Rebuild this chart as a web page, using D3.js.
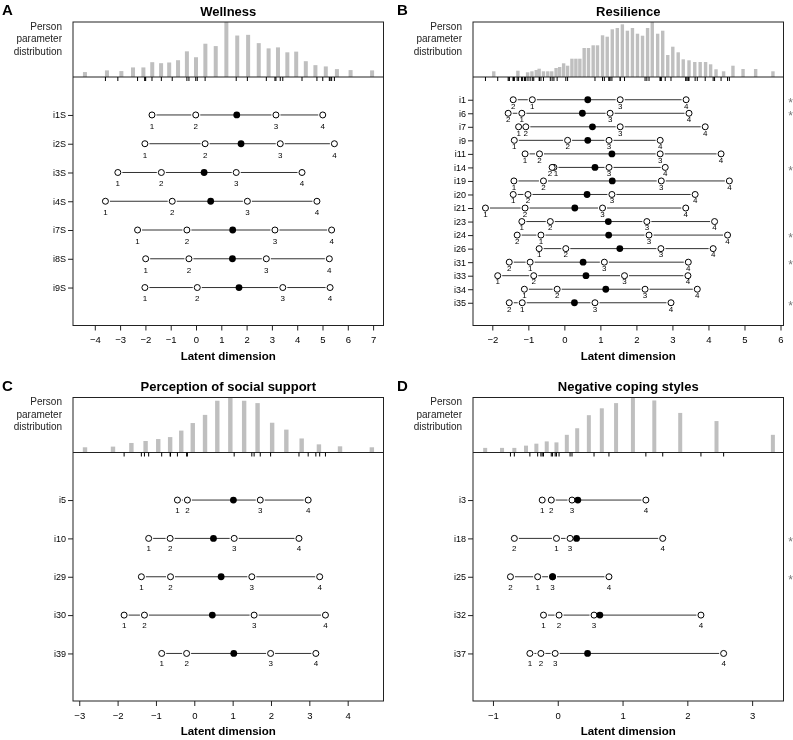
<!DOCTYPE html>
<html>
<head>
<meta charset="utf-8">
<script src="https://cdn.jsdelivr.net/npm/d3@7"></script>
<style>
body{margin:0;background:#fff}
#chart{will-change:transform}
text{font-family:"Liberation Sans",Arial,Helvetica,sans-serif}
</style>
</head>
<body>
<svg id="chart" width="793" height="740"></svg>
<script>
// ---- A: Wellness
var wellItems = ["i1S","i2S","i3S","i4S","i7S","i8S","i9S"];
var wellThresholds = [
	[-1.74,-0.01,3.16,5.01],
	[-2.02,0.36,3.33,5.47],
	[-3.09,-1.37,1.59,4.19],
	[-3.58,-0.94,2.03,4.78],
	[-2.31,-0.36,3.12,5.36],
	[-1.99,-0.28,2.78,5.27],
	[-2.02,0.05,3.43,5.30]
];
var wellLocations = [1.61,1.78,0.32,0.58,1.45,1.44,1.70];
var wellHistAt = [-4.39,-3.52,-2.95,-2.49,-2.08,-1.73,-1.38,-1.06,-0.71,-0.36,0.00,0.37,0.78,1.20,1.63,2.06,2.48,2.87,3.24,3.61,3.96,4.34,4.72,5.13,5.57,6.11,6.96];
var wellHistFreq = [5,6.7,6,9.7,9.7,15,14,14.7,17,26,20,33.7,31.3,55.7,42,42.7,34.3,29,30,25,25.7,16,12,10.7,8,7,6.7];
var wellStars = [];
var wellTicks = [-4,-3,-2,-1,0,1,2,3,4,5,6,7];

// ---- B: Resilience
var resItems = ["i1","i6","i7","i9","i11","i14","i19","i20","i21","i23","i24","i26","i31","i33","i34","i35"];
var resThresholds = [
	[-0.89,-1.42,1.55,3.38],
	[-1.18,-1.56,1.27,3.46],
	[-1.27,-1.07,1.55,3.91],
	[-1.39,0.09,1.24,2.66],
	[-1.09,-0.69,2.66,4.35],
	[-0.29,-0.34,1.24,2.80],
	[-1.40,-0.58,2.69,4.58],
	[-1.42,-1.01,1.32,3.63],
	[-2.19,-1.09,1.06,3.37],
	[-1.18,-0.39,2.29,4.17],
	[-0.65,-1.31,2.35,4.53],
	[-0.70,0.04,2.68,4.13],
	[-0.95,-1.53,1.11,3.44],
	[-1.85,-0.85,1.67,3.43],
	[-1.11,-0.20,2.24,3.69],
	[-1.17,-1.53,0.85,2.96]
];
var resLocations = [0.65,0.50,0.78,0.65,1.32,0.85,1.33,0.63,0.29,1.22,1.23,1.54,0.52,0.60,1.15,0.28];
var resHistAt = [-1.96,-1.29,-1.02,-0.90,-0.78,-0.70,-0.58,-0.46,-0.35,-0.23,-0.13,-0.02,0.09,0.21,0.32,0.43,0.55,0.67,0.80,0.92,1.06,1.19,1.33,1.47,1.61,1.75,1.89,2.03,2.17,2.31,2.44,2.59,2.73,2.87,3.01,3.16,3.30,3.46,3.62,3.77,3.92,4.06,4.21,4.42,4.68,4.96,5.31,5.79];
var resHistFreq = [5.7,6.3,4.7,5.7,7,8.3,5.7,5.7,5.7,9,10,13.7,11.3,18.3,18.3,18.3,29,29,31.7,31.7,41.7,40.3,47.7,49,52.7,46.3,49,43.3,41.3,49,55,43.3,46.3,22,30.3,24.7,17.7,16.7,15,15,15,12.7,7.7,5.7,11.3,8,8,5.7];
var resStars = ["i1","i6","i14","i24","i31","i35"];
var resTicks = [-2,-1,0,1,2,3,4,5,6];

// ---- C: Perception of social support
var socItems = ["i5","i10","i29","i30","i39"];
var socThresholds = [
	[-0.44,-0.18,1.72,2.97],
	[-1.19,-0.63,1.04,2.73],
	[-1.38,-0.62,1.50,3.27],
	[-1.83,-1.30,1.56,3.42],
	[-0.85,-0.20,1.99,3.17]
];
var socLocations = [1.02,0.50,0.70,0.47,1.03];
var socHistAt = [-2.85,-2.12,-1.64,-1.27,-0.94,-0.63,-0.34,-0.04,0.28,0.60,0.94,1.30,1.65,2.03,2.40,2.80,3.25,3.80,4.63];
var socHistFreq = [5.3,6,9.7,11.7,13.7,15.7,22.3,30,38.3,52.7,56,52.7,50.3,30.3,23.3,14.3,8.3,6.3,5.3];
var socStars = [];
var socTicks = [-3,-2,-1,0,1,2,3,4];

// ---- D: Negative coping styles
var copItems = ["i3","i18","i25","i32","i37"];
var copThresholds = [
	[-0.24,-0.10,0.22,1.36],
	[-0.02,-0.67,0.19,1.62],
	[-0.31,-0.73,-0.08,0.79],
	[-0.22,0.02,0.56,2.21],
	[-0.43,-0.26,-0.04,2.56]
];
var copLocations = [0.31,0.29,-0.08,0.65,0.46];
var copHistAt = [-1.12,-0.86,-0.67,-0.49,-0.33,-0.17,-0.02,0.14,0.30,0.48,0.68,0.90,1.16,1.49,1.89,2.45,3.32];
var copHistFreq = [4.7,4.7,4.7,7,9,11.3,10.3,18,24.7,38,45,50.3,56,53,40.3,32,18];
var copStars = ["i18","i25"];
var copTicks = [-1,0,1,2,3];

var svg = d3.select('#chart');

var panels = [
	{letter:'A', title:'Wellness', items:wellItems, thr:wellThresholds, loc:wellLocations,
	 histAt:wellHistAt, histFreq:wellHistFreq, stars:wellStars, ticks:wellTicks,
	 left:73, top:22, domain:[-4.862,7.411], labelDy:11, letterX:2, barW:4},
	{letter:'B', title:'Resilience', items:resItems, thr:resThresholds, loc:resLocations,
	 histAt:resHistAt, histFreq:resHistFreq, stars:resStars, ticks:resTicks,
	 left:473, top:22, domain:[-2.536,6.083], labelDy:6, letterX:397, barW:3.4},
	{letter:'C', title:'Perception of social support', items:socItems, thr:socThresholds, loc:socLocations,
	 histAt:socHistAt, histFreq:socHistFreq, stars:socStars, ticks:socTicks,
	 left:73, top:397.5, domain:[-3.163,4.934], labelDy:10, letterX:2, barW:4.4},
	{letter:'D', title:'Negative coping styles', items:copItems, thr:copThresholds, loc:copLocations,
	 histAt:copHistAt, histFreq:copHistFreq, stars:copStars, ticks:copTicks,
	 left:473, top:397.5, domain:[-1.308,3.484], labelDy:10, letterX:397, barW:4}
];

function drawPanel(p){
	var left = p.left, right = p.left + 310.5;
	var top = p.top, base = top + 55, bottom = base + 248.5;
	var n = p.items.length, pad = 0.04*(n+1);
	var x = d3.scaleLinear().domain(p.domain).range([left,right]);
	var y = d3.scaleLinear().domain([-pad, n+1+pad]).range([base,bottom]);
	var hy = d3.scaleLinear().domain([0, d3.max(p.histFreq)]).range([base,top]);
	var g = svg.append('g');

	// person parameter histogram
	g.selectAll('rect.bar').data(p.histAt).enter().append('rect')
		.attr('class','bar')
		.attr('x', function(d){return x(d)-p.barW/2})
		.attr('width', p.barW)
		.attr('y', function(d,i){return hy(p.histFreq[i])})
		.attr('height', function(d,i){return base-hy(p.histFreq[i])})
		.attr('fill','#bfbfbf');

	// frames
	g.append('rect')
		.attr('x',left).attr('y',top)
		.attr('width',right-left).attr('height',bottom-top)
		.attr('fill','none').attr('stroke','#222').attr('stroke-width',1);
	g.append('line')
		.attr('x1',left).attr('x2',right).attr('y1',base).attr('y2',base)
		.attr('stroke','#222');

	// rug of threshold locations
	var allThr = [].concat.apply([], p.thr);
	g.selectAll('line.rug').data(allThr).enter().append('line')
		.attr('class','rug')
		.attr('x1',function(d){return x(d)}).attr('x2',function(d){return x(d)})
		.attr('y1',base).attr('y2',base+4)
		.attr('stroke','#000').attr('stroke-width',1);

	// axes
	var xa = g.append('g').attr('transform','translate(0,'+bottom+')')
		.call(d3.axisBottom(x).tickValues(p.ticks).tickFormat(d3.format('d'))
			.tickSize(5).tickPadding(6));
	xa.select('.domain').remove();
	xa.selectAll('line').attr('stroke','#222');
	xa.selectAll('text').attr('font-size',9.5).attr('font-family',null).attr('fill','#000');

	var ya = g.append('g').attr('transform','translate('+left+',0)')
		.call(d3.axisLeft(y).tickValues(d3.range(1,n+1))
			.tickFormat(function(i){return p.items[i-1]}).tickSize(5).tickPadding(2));
	ya.select('.domain').remove();
	ya.selectAll('line').attr('stroke','#222');
	ya.selectAll('text').attr('font-size',9).attr('font-family',null).attr('fill','#000');

	// item rows
	p.items.forEach(function(name,i){
		var ry = y(i+1);
		var t = p.thr[i];
		var sorted = t.slice().sort(d3.ascending);
		for (var k=0;k<sorted.length-1;k++){
			var a = x(sorted[k])+4.5, b = x(sorted[k+1])-4.5;
			if (b>a) {
				g.append('line').attr('x1',a).attr('x2',b).attr('y1',ry).attr('y2',ry)
					.attr('stroke','#333').attr('stroke-width',1);
			}
		}
		g.selectAll(null).data(t).enter().append('circle')
			.attr('cx',function(d){return x(d)}).attr('cy',ry).attr('r',3)
			.attr('fill','#fff').attr('stroke','#000').attr('stroke-width',1);
		g.append('circle').attr('cx',x(p.loc[i])).attr('cy',ry).attr('r',3.4).attr('fill','#000');

		// category labels, nudged apart when they would collide
		var order = d3.range(t.length).sort(function(a,b){return t[a]-t[b]});
		var lx = order.map(function(k){return x(t[k])});
		for (var k=1;k<lx.length;k++){
			if (lx[k]-lx[k-1] < 6) {
				var mid = (lx[k]+lx[k-1])/2;
				lx[k-1] = mid-3; lx[k] = mid+3;
			}
		}
		order.forEach(function(k,j){
			g.append('text').attr('x',lx[j]).attr('y',ry+p.labelDy).attr('dy','0.35em')
				.attr('text-anchor','middle').attr('font-size',8).attr('fill','#000')
				.text(k+1);
		});

		if (p.stars.indexOf(name) >= 0) {
			g.append('text').attr('x',right+7).attr('y',ry).attr('dy','0.6em')
				.attr('text-anchor','middle').attr('font-size',12).attr('fill','#777')
				.text('*');
		}
	});

	// titles and labels
	g.append('text').attr('x',(left+right)/2).attr('y',top-6.5)
		.attr('text-anchor','middle').attr('font-size',13).attr('font-weight','bold')
		.text(p.title);
	g.append('text').attr('x',p.letterX).attr('y',top-7)
		.attr('font-size',15).attr('font-weight','bold').text(p.letter);
	['Person','parameter','distribution'].forEach(function(s,j){
		g.append('text').attr('x',left-11).attr('y',top+7.5+j*12.5)
			.attr('text-anchor','end').attr('font-size',10).attr('fill','#222').text(s);
	});
	g.append('text').attr('x',(left+right)/2).attr('y',bottom+34)
		.attr('text-anchor','middle').attr('font-size',11.5).attr('font-weight','bold')
		.text('Latent dimension');
}

panels.forEach(drawPanel);
</script>
</body>
</html>
